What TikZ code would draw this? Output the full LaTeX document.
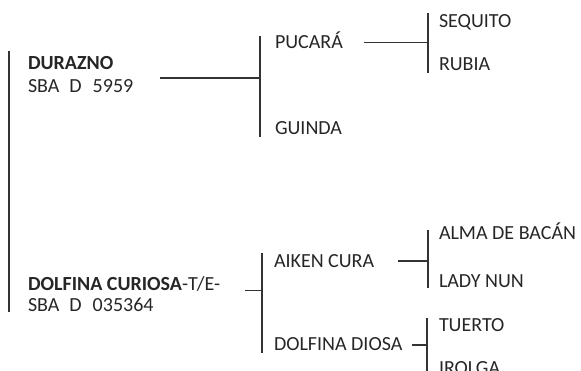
\documentclass[tikz,border=0pt]{standalone}
\usepackage{fontspec}
\setmainfont{Carlito}
\begin{document}
\begin{tikzpicture}[x=1pt,y=-1pt,
  lbl/.style={anchor=base west,inner sep=0pt,outer sep=0pt,font=\fontsize{20pt}{24pt}\selectfont,text=black!85},
  ln/.style={draw=black!80,line width=1.1pt}]
\useasboundingbox (0,0) rectangle (581,371);
\clip (0,0) rectangle (581,371);
% labels
\node[lbl] (durazno) at (28,70) {\bfseries DURAZNO};
\node[lbl] (sba1) at (28,93) {SBA\hspace{10pt}D\hspace{11pt}5959};
\node[lbl] (dolfina) at (28,290.5) {\textbf{DOLFINA CURIOSA}-T/E-};
\node[lbl] (sba2) at (28,311.5) {SBA\hspace{10pt}D\hspace{11pt}035364};
\node[lbl] (pucara) at (275,49) {PUCARÁ};
\node[lbl] (guinda) at (275,135) {GUINDA};
\node[lbl] (sequito) at (439,28) {SEQUITO};
\node[lbl] (rubia) at (439,71) {RUBIA};
\node[lbl] (aiken) at (274,268) {AIKEN CURA};
\node[lbl] (ddiosa) at (274,351) {DOLFINA DIOSA};
\node[lbl] (alma) at (439,240) {ALMA DE BACÁN};
\node[lbl] (lady) at (439,288) {LADY NUN};
\node[lbl] (tuerto) at (439,331) {TUERTO};
\node[lbl] (irolga) at (439,374) {IROLGA};
% coordinates
\coordinate (l0a) at (9,51);   \coordinate (l0b) at (9,312);
\coordinate (d1) at (160,78);  \coordinate (d2) at (260,78);
\coordinate (v1a) at (260,36); \coordinate (v1b) at (260,137);
\coordinate (p1) at (364,42.5);\coordinate (p2) at (428,42.5);
\coordinate (v2a) at (428,13); \coordinate (v2b) at (428,73);
\coordinate (c1) at (245,290.5);\coordinate (c2) at (262,290.5);
\coordinate (v3a) at (262,253);\coordinate (v3b) at (262,353);
\coordinate (a1) at (398,261); \coordinate (a2) at (428,261);
\coordinate (v4a) at (428,230);\coordinate (v4b) at (428,288);
\coordinate (e1) at (412,345); \coordinate (e2) at (427,345);
\coordinate (v5a) at (427,318);\coordinate (v5b) at (427,380);
% connectors
\draw[ln] (l0a) -- (l0b);
\draw[ln] (d1) -- (d2);
\draw[ln] (v1a) -- (v1b);
\draw[ln] (p1) -- (p2);
\draw[ln] (v2a) -- (v2b);
\draw[ln] (c1) -- (c2);
\draw[ln] (v3a) -- (v3b);
\draw[ln] (a1) -- (a2);
\draw[ln] (v4a) -- (v4b);
\draw[ln] (e1) -- (e2);
\draw[ln] (v5a) -- (v5b);
\end{tikzpicture}
\end{document}
